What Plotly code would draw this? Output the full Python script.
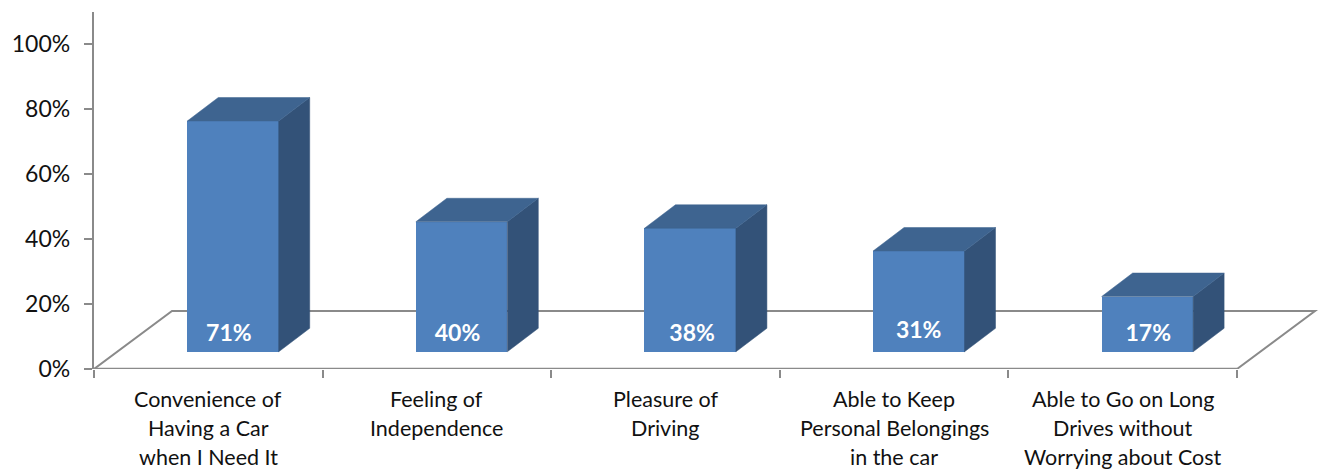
import plotly.graph_objects as go

categories = [
    ["Convenience of", "Having a Car", "when I Need It"],
    ["Feeling of", "Independence"],
    ["Pleasure of", "Driving"],
    ["Able to Keep", "Personal Belongings", "in the car"],
    ["Able to Go on Long", "Drives without", "Worrying about Cost"],
]
values = [71, 40, 38, 31, 17]
value_labels = ["71%", "40%", "38%", "31%", "17%"]
y_ticks = [0, 20, 40, 60, 80, 100]
y_tick_labels = ["0%", "20%", "40%", "60%", "80%", "100%"]

FONT = "Lato, 'Open Sans', sans-serif"
FRONT, TOP, SIDE = "#4F81BD", "#3E6490", "#335278"
AXIS = "#8A8A8A"
TEXT = "#111111"

W, H = 1320, 469
L, T, B = 94, 12, 100
CAT_PX, PCT_PX = 228.6, 3.25
xmax = (W - L) / CAT_PX
ymax = (H - T - B) / PCT_PX

bar_w = 0.4
bar_left = 0.408
base = 5.3          # bars stand on the floor, in front of its back edge
dx, dy = 31 / CAT_PX, 23.5 / PCT_PX
n = len(values)
floor_dx = 78 / CAT_PX
floor_dy = 58 / PCT_PX
label_nudge_x = [0, 0, 6, 4, 5]   # hand placement of the value labels, px
label_nudge_y = [0, 0, 0, 3, 0]

fig = go.Figure()

xc = [i + bar_left + bar_w / 2 for i in range(n)]
fig.add_trace(go.Bar(x=xc, y=values, base=base, width=bar_w,
                     marker=dict(color=FRONT, line=dict(width=0)),
                     hoverinfo="skip"))

for i, v in enumerate(values):
    x0 = i + bar_left
    x1 = x0 + bar_w
    b, t = base, base + v
    fig.add_trace(go.Scatter(
        x=[x1, x1 + dx, x1 + dx, x1, x1], y=[b, b + dy, t + dy, t, b],
        mode="lines", fill="toself", fillcolor=SIDE,
        line=dict(color=SIDE, width=0.5), hoverinfo="skip"))
    fig.add_trace(go.Scatter(
        x=[x0, x0 + dx, x1 + dx, x1, x0], y=[t, t + dy, t + dy, t, t],
        mode="lines", fill="toself", fillcolor=TOP,
        line=dict(color=TOP, width=0.5), hoverinfo="skip"))

fig.add_trace(go.Scatter(
    x=[i + 0.59 + label_nudge_x[i] / CAT_PX for i in range(n)],
    y=[base + 5.1 + label_nudge_y[i] / PCT_PX for i in range(n)],
    mode="text", text=value_labels,
    textfont=dict(family=FONT, size=23, color="white", weight="bold"),
    hoverinfo="skip"))

# floor of the 3-D plot, behind the bars
fig.add_shape(type="path", layer="below", xref="x", yref="y",
              path=f"M 0 0 L {floor_dx} {floor_dy} L {n + floor_dx} {floor_dy} L {n} 0",
              line=dict(color=AXIS, width=2))
fig.add_shape(type="line", layer="below", xref="x", yref="y",
              x0=0, y0=0, x1=n, y1=0, line=dict(color=AXIS, width=2.4))

for i, lines in enumerate(categories):
    for k, line in enumerate(lines):
        fig.add_annotation(x=i + 0.5, y=0, xref="x", yref="y", yshift=-29.5 - 29 * k,
                           text=line, showarrow=False, xanchor="center", yanchor="middle",
                           font=dict(family=FONT, size=21.5, color=TEXT))

fig.update_layout(
    width=W, height=H, margin=dict(l=L, r=0, t=T, b=B, pad=0),
    paper_bgcolor="white", plot_bgcolor="white", showlegend=False,
    bargap=0,
    xaxis=dict(range=[0, xmax], showgrid=False, zeroline=False, showline=False,
               tickvals=list(range(n + 1)), ticks="outside", ticklen=8, tickwidth=2,
               tickcolor=AXIS, showticklabels=False, fixedrange=True),
    yaxis=dict(range=[0, ymax], showgrid=False, zeroline=False, showline=True,
               linecolor=AXIS, linewidth=2.4, tickvals=y_ticks, ticktext=y_tick_labels,
               ticks="outside", ticklen=8, tickwidth=2, tickcolor=AXIS, ticklabelstandoff=9,
               tickfont=dict(family=FONT, size=23, color=TEXT), fixedrange=True),
)

fig.write_html("out.html", config={"displayModeBar": False},
               post_script="document.body.style.margin='0';")
